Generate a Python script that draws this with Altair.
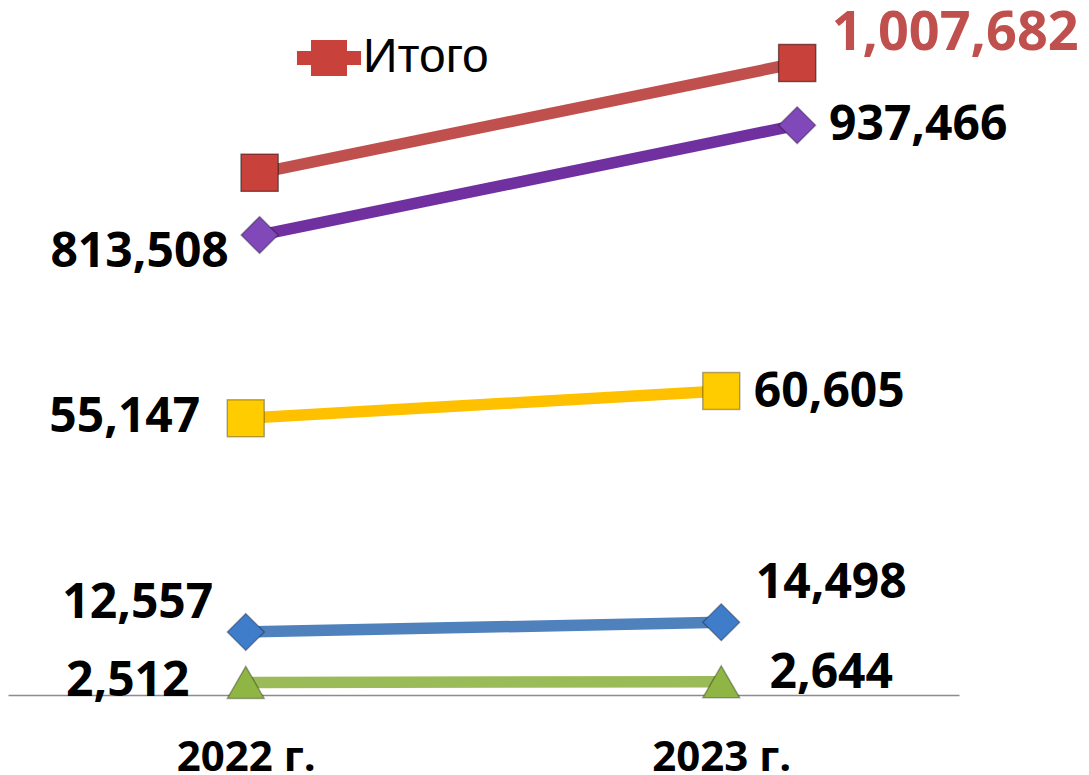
import altair as alt
import pandas as pd

# ---- data ----
years = [2022, 2023]
series_names = ["Итого", "Ряд1", "Ряд2", "Ряд3", "Ряд4"]
itogo = [883724, 1007682]
ryad1 = [813508, 937466]
ryad2 = [55147, 60605]
ryad3 = [12557, 14498]
ryad4 = [2512, 2644]

values_by_series = [itogo, ryad1, ryad2, ryad3, ryad4]
rows = []
for name, vals in zip(series_names, values_by_series):
    for yr, v in zip(years, vals):
        rows.append({"series": name, "year": yr, "value": v})
df = pd.DataFrame(rows)

# ---- style ----
line_colors = ["#C0504D", "#7030A0", "#FFC000", "#4F81BD", "#9BBB59"]
marker_colors = ["#C9413B", "#8048B8", "#FFCC00", "#3F7DCB", "#8FB544"]
shapes = ["square", "diamond", "square", "diamond", "triangle-up"]
NUM_FONT = "Open Sans"

W, H = 951, 687

legend = alt.Legend(
    orient="none", legendX=297, legendY=26, title=None,
    symbolType="M-1.78,-0.39H1.78V0.39H-1.78Z M-1,-1H1V1H-1Z",
    symbolSize=1296, symbolStrokeWidth=0,
    labelFont="Liberation Sans", labelFontSize=48, labelColor="black",
    labelOffset=10, padding=0, labelLimit=400,
)

stroke_scale = alt.Scale(domain=series_names, range=line_colors)
fill_scale = alt.Scale(domain=series_names, range=marker_colors)
shape_scale = alt.Scale(domain=series_names, range=shapes)

# label offsets (dx, dy) per (series, year)
label_specs = [
    ("Итого", 2023, 158, -29, "#C0504D", 54),
    ("Ряд1", 2022, -120, 18, "black", 48),
    ("Ряд1", 2023, 121, 1, "black", 48),
    ("Ряд2", 2022, -121, 0, "black", 48),
    ("Ряд2", 2023, 108, 2, "black", 48),
    ("Ряд3", 2022, -108, -28, "black", 48),
    ("Ряд3", 2023, 110, -38, "black", 48),
    ("Ряд4", 2022, -118, 0, "black", 48),
    ("Ряд4", 2023, 110, -8, "black", 48),
]


def group(names, xdom, ydom, x_axis, with_legend):
    base = alt.Chart(df).transform_filter(
        alt.FieldOneOfPredicate(field="series", oneOf=names)
    )
    x = alt.X("year:Q", scale=alt.Scale(domain=xdom, nice=False, zero=False), axis=x_axis)
    y = alt.Y("value:Q", scale=alt.Scale(domain=ydom, nice=False, zero=False), axis=None)
    lines = base.mark_line(strokeWidth=11.5, strokeCap="butt").encode(
        x=x, y=y, stroke=alt.Stroke("series:N", scale=stroke_scale, legend=None)
    )
    point_style = dict(filled=True, size=1370, opacity=1, stroke="black",
                       strokeOpacity=0.3, strokeWidth=1.5)
    points = base.mark_point(**point_style).encode(
        x=x, y=y,
        fill=alt.Fill("series:N", scale=fill_scale, legend=None),
        shape=alt.Shape("series:N", scale=shape_scale, legend=None),
    )
    layers = [lines, points]
    if with_legend:
        total = alt.Chart(df).transform_filter(alt.datum.series == "Итого").mark_point(
            shape="square", **point_style
        ).encode(
            x=x, y=y,
            color=alt.Color("series:N",
                            scale=alt.Scale(domain=["Итого"], range=[marker_colors[0]]),
                            legend=legend),
        )
        layers.append(total)
    for s, yr, dx, dy, col, fs in label_specs:
        if s not in names:
            continue
        t = alt.Chart(df).transform_filter(
            (alt.datum.series == s) & (alt.datum.year == yr)
        ).mark_text(
            dx=dx, dy=dy, font=NUM_FONT, fontSize=fs, fontWeight="bold", color=col,
            align="center", baseline="middle",
        ).encode(x=x, y=y, text=alt.Text("value:Q", format=","))
        layers.append(t)
    return alt.layer(*layers)


x_axis_primary = alt.Axis(
    values=years, labelExpr="datum.value + ' г.'", grid=False, ticks=False,
    domainColor="#8C8C8C", domainWidth=1.5, labelFont=NUM_FONT, labelFontSize=42,
    labelFontWeight="bold", labelColor="black", labelPadding=42, title=None,
    labelFlush=False, labelOverlap=False, labelBaseline="top",
)

primary = group(["Ряд2", "Ряд3", "Ряд4"], [2021.5, 2023.5], [0, 136930], x_axis_primary, False)
secondary = group(["Итого", "Ряд1"], [2021.532, 2023.301], [294360, 1069750], None, True)

chart = alt.layer(primary, secondary).resolve_scale(
    x="independent", y="independent"
).properties(
    width=W, height=H,
    padding={"left": 0, "top": 0, "right": 122, "bottom": 79},
    autosize=alt.AutoSizeParams(type="none"),
    background="white",
).configure_view(stroke=None)

chart.save("out.html", embed_options={"renderer": "svg", "actions": False})
